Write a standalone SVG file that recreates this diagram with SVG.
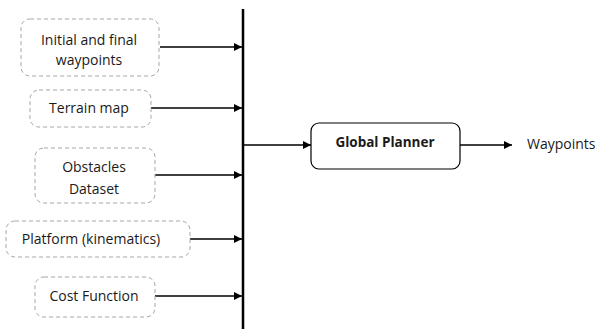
<svg xmlns="http://www.w3.org/2000/svg" width="597" height="329" viewBox="0 0 597 329">
  <style>
    .in rect { fill: #ffffff; stroke: #a6a6a6; stroke-width: 1; stroke-dasharray: 4 3; }
    text { font-family: "Open Sans", "Liberation Sans", sans-serif; font-size: 14px; fill: #1a1a1a; text-anchor: middle; }
    .bold { font-weight: bold; font-size: 13.5px; }
    .edge { stroke: #000; stroke-width: 1.3; fill: none; marker-end: url(#arr); }
  </style>
  <defs>
    <marker id="arr" viewBox="0 0 10 10" refX="10" refY="5" markerWidth="8" markerHeight="8" markerUnits="userSpaceOnUse" orient="auto">
      <path d="M0,0 L10,5 L0,10 z" fill="#000"/>
    </marker>
  </defs>
  <rect width="597" height="329" fill="#ffffff"/>

  <g id="connectors">
    <line x1="243" y1="9" x2="243" y2="329" stroke="#000" stroke-width="2.5"/>
    <line class="edge" x1="160" y1="47" x2="242" y2="47"/>
    <line class="edge" x1="151" y1="108" x2="242" y2="108"/>
    <line class="edge" x1="155" y1="175" x2="242" y2="175"/>
    <line class="edge" x1="190" y1="239" x2="242" y2="239"/>
    <line class="edge" x1="155" y1="296" x2="242" y2="296"/>
    <line class="edge" x1="244" y1="145" x2="311" y2="145" stroke-width="1.8"/>
    <line class="edge" x1="460" y1="145" x2="512" y2="145"/>
  </g>

  <g id="initial-final" class="in">
    <rect x="21" y="19" width="138" height="57" rx="9"/>
    <text x="89" y="45">Initial and final</text>
    <text x="89" y="65">waypoints</text>
  </g>
  <g id="terrain" class="in">
    <rect x="30" y="90" width="121" height="37" rx="9"/>
    <text x="89" y="113">Terrain map</text>
  </g>
  <g id="obstacles" class="in">
    <rect x="35" y="148" width="120" height="55" rx="9"/>
    <text x="94" y="172">Obstacles</text>
    <text x="94" y="194">Dataset</text>
  </g>
  <g id="platform" class="in">
    <rect x="6" y="221" width="184" height="36" rx="9"/>
    <text x="91" y="244">Platform (kinematics)</text>
  </g>
  <g id="cost" class="in">
    <rect x="35" y="277" width="120" height="40" rx="9"/>
    <text x="94" y="301">Cost Function</text>
  </g>
  <g id="global-planner">
    <rect x="311" y="123" width="149" height="46" rx="8" fill="#ffffff" stroke="#000" stroke-width="1.2"/>
    <text x="385" y="147" class="bold">Global Planner</text>
  </g>
  <g id="waypoints">
    <text x="527" y="149" style="text-anchor:start">Waypoints</text>
  </g>
</svg>
